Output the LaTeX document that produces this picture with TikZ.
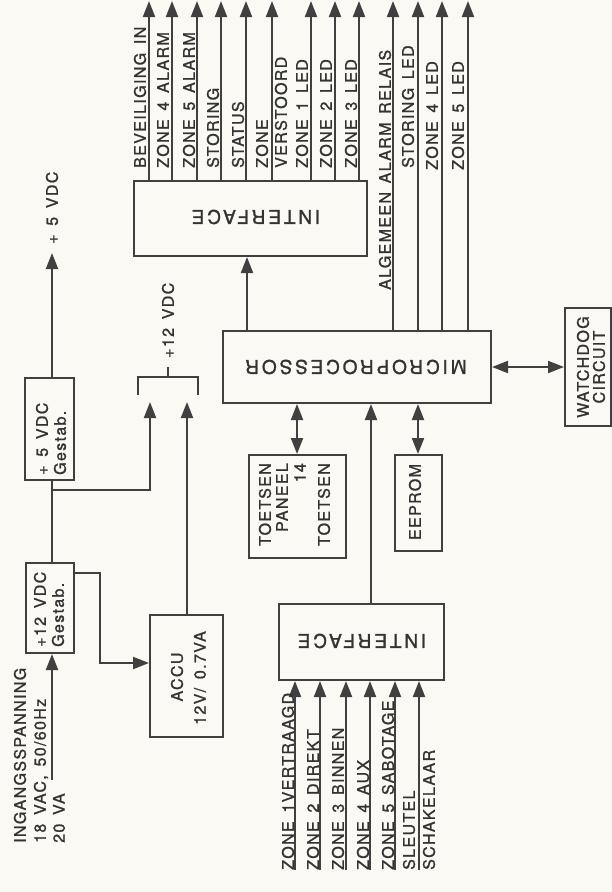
\documentclass[tikz,border=0pt]{standalone}
\usepackage{fontspec}
\setmainfont{TeX Gyre Heros}
\newfontfamily\lblfont[LetterSpace=8.5, WordSpace=1.5, FakeBold=1.2]{TeX Gyre Heros}
\newfontfamily\ttlfont[LetterSpace=15, WordSpace=1.6, FakeBold=1.4]{TeX Gyre Heros}
\usetikzlibrary{arrows.meta}
\definecolor{ink}{HTML}{404040}
\definecolor{txt}{HTML}{333333}
\definecolor{paper}{HTML}{FAF9F4}
\tikzset{
  ln/.style={draw=ink, line width=2pt},
  arr/.style={ln, -{Triangle[length=16pt,width=12pt]}},
  darr/.style={ln, {Triangle[length=16pt,width=12pt]}-{Triangle[length=16pt,width=12pt]}},
  box/.style={draw=ink, line width=2pt, anchor=north west, inner sep=0pt},
  vlbl/.style={rotate=90, anchor=west, inner sep=0pt, text=txt, font={\lblfont\fontsize{16}{19}\selectfont}},
  vlblc/.style={vlbl, anchor=center},
  vlble/.style={vlbl, anchor=east},
  title/.style={rotate=180, anchor=center, inner sep=0pt, text=txt, font={\ttlfont\fontsize{19}{22}\selectfont}},
}
\begin{document}
\begin{tikzpicture}[x=1pt, y=-1pt]
\fill[paper] (0,0) rectangle (612,892);
\useasboundingbox (0,0) rectangle (612,892);

% boxes
\node[box, minimum width=233pt, minimum height=75pt] (ifTop) at (133,180) {};
\node[box, minimum width=268pt, minimum height=72pt] (micro) at (222,330) {};
\node[box, minimum width=46pt, minimum height=118pt] (watch) at (564,307) {};
\node[box, minimum width=97pt, minimum height=103pt] (toetsen) at (248,454) {};
\node[box, minimum width=47pt, minimum height=96pt] (eeprom) at (394,454) {};
\node[box, minimum width=165pt, minimum height=76pt] (ifBot) at (278,603) {};
\node[box, minimum width=48pt, minimum height=90pt] (p12) at (25,562) {};
\node[box, minimum width=49pt, minimum height=102pt] (p5) at (24,377) {};
\node[box, minimum width=73pt, minimum height=122pt] (accu) at (149,614) {};

% box texts
\node[title] (ifTopT) at (256,217) {INTERFACE};
\node[title] (ifBotT) at (362,641) {INTERFACE};
\node[title] (microT) at (356,367) {MICROPROCESSOR};
\node[vlblc] (watchA) at (583,367) {WATCHDOG};
\node[vlblc] (watchB) at (599,367) {CIRCUIT};
\node[vlblc] (eepromT) at (415,502) {EEPROM};
\node[vlble] (toA) at (265,463) {TOETSEN};
\node[vlble] (toB) at (282,463) {PANEEL};
\node[vlble] (toC) at (300,463) {14};
\node[vlble] (toD) at (324,463) {TOETSEN};
\node[vlbl] (p12A) at (40,647) {+12 VDC};
\node[vlbl] (p12B) at (58,647) {Gestab.};
\node[vlbl] (p5A) at (42,475) {+ 5 VDC};
\node[vlbl] (p5B) at (60,475) {Gestab.};
\node[vlblc] (accuA) at (177,677) {ACCU};
\node[vlblc] (accuB) at (200,678) {12V/\ 0.7VA};

% top outputs from interface
\foreach \x/\n in {149/a,172/b,197/c,221/d,246/e,272/f,311/g,335/h,359/i}{
  \coordinate (t\n) at (\x,1);
  \draw[arr] (ifTop.north -| t\n) -- (t\n);
}
% top outputs from microprocessor
\foreach \x/\n in {393/j,418/k,442/l,468/m}{
  \coordinate (t\n) at (\x,1);
  \draw[arr] (micro.north -| t\n) -- (t\n);
}
% top labels
\node[vlbl] (lA) at (140,168) {BEVEILIGING\ IN};
\node[vlbl] (lB) at (163,168) {ZONE 4 ALARM};
\node[vlbl] (lC) at (189,168) {ZONE 5 ALARM};
\node[vlbl] (lD) at (213,168) {STORING};
\node[vlbl] (lE) at (238,168) {STATUS};
\node[vlbl] (lF) at (262,168) {ZONE};
\node[vlbl] (lG) at (281,168) {VERSTOORD};
\node[vlbl] (lH) at (302,168) {ZONE 1 LED};
\node[vlbl] (lI) at (326,168) {ZONE 2 LED};
\node[vlbl] (lJ) at (351,168) {ZONE 3 LED};
\node[vlbl] (lK) at (385,290) {ALGEMEEN ALARM RELAIS};
\node[vlbl] (lL) at (408,168) {STORING LED};
\node[vlbl] (lM) at (432,170) {ZONE 4 LED};
\node[vlbl] (lN) at (458,170) {ZONE 5 LED};

% microprocessor links
\coordinate (xa) at (247,0);
\coordinate (xt) at (297,0);
\coordinate (xe) at (418,0);
\coordinate (xm) at (371,0);
\draw[arr] (micro.north -| xa) -- (ifTop.south -| xa);
\draw[darr] (micro.east) -- (micro.east -| watch.west);
\draw[darr] (micro.south -| xt) -- (toetsen.north -| xt);
\draw[darr] (micro.south -| xe) -- (eeprom.north -| xe);
\draw[arr] (ifBot.north -| xm) -- (micro.south -| xm);

% inputs
\foreach \x/\n in {295/a,320/b,346/c,370/d,395/e,419/f}{
  \coordinate (in\n) at (\x,870);
  \draw[arr] (in\n) -- (ifBot.south -| in\n);
}
\node[vlbl] (iA) at (288,870) {ZONE 1VERTRAAGD};
\node[vlbl] (iB) at (313,870) {ZONE 2 DIREKT};
\node[vlbl] (iC) at (338,870) {ZONE 3 BINNEN};
\node[vlbl] (iD) at (363,870) {ZONE 4 AUX};
\node[vlbl] (iE) at (388,870) {ZONE 5 SABOTAGE};
\node[vlbl] (iF) at (409,870) {SLEUTEL};
\node[vlbl] (iG) at (429,870) {SCHAKELAAR};

% power supply
\coordinate (vin) at (52,780);
\coordinate (v5) at (52,253);
\coordinate (brA) at (52,490);
\coordinate (b1) at (150,402);
\coordinate (b2) at (187,402);
\coordinate (k1) at (100,573);
\coordinate (k2) at (100,663);
\draw[arr] (vin) -- (p12.south -| vin);
\draw[ln] (p12.north -| vin) -- (p5.south -| vin);
\draw[arr] (p5.north -| v5) -- (v5);
\draw[arr] (brA) -| (b1);
\draw[arr] (p12.east |- k1) -- (k1) -- (k2) -- (accu.west |- k2);
\draw[arr] (accu.north -| b2) -- (b2);
% bracket
\draw[ln] (138,395) -- (138,377) -- (198,377) -- (198,395);
\draw[ln] (168,377) -- (168,367);
\node[vlbl] (v12L) at (168,358) {+12 VDC};
\node[vlbl] (v5L) at (52,244) {+ 5 VDC};

% input voltage label
\node[vlbl] (inA) at (20,843) {INGANGSSPANNING};
\node[vlbl] (inB) at (41,843) {18 VAC, 50/60Hz};
\node[vlbl] (inC) at (59,843) {20 VA};
\end{tikzpicture}
\end{document}
